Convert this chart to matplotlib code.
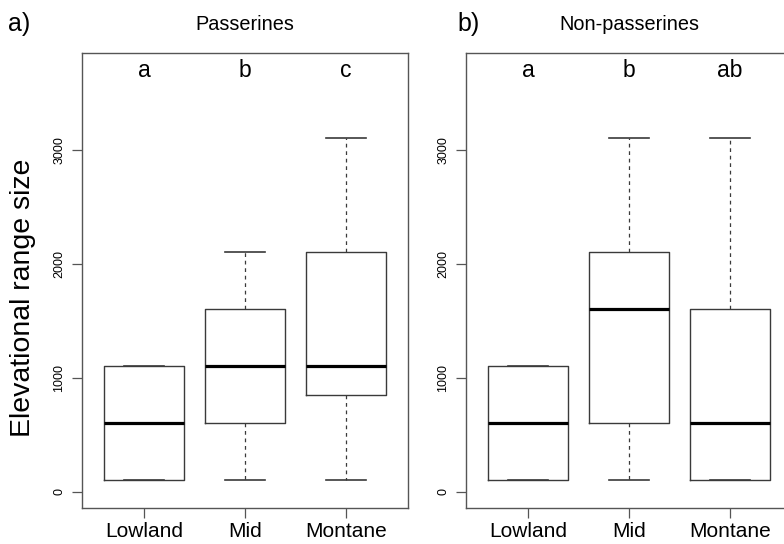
import matplotlib
matplotlib.use("Agg")
import matplotlib.pyplot as plt

plt.rcParams['font.family'] = ['Liberation Sans', 'DejaVu Sans']

# Elevational range sizes (m) by elevation zone: five-number summaries
zones = ['Lowland', 'Mid', 'Montane']

pass_whislo = [100, 100, 100]
pass_q1 = [100, 600, 850]
pass_med = [600, 1100, 1100]
pass_q3 = [1100, 1600, 2100]
pass_whishi = [1100, 2100, 3100]
pass_letters = ['a', 'b', 'c']

nonpass_whislo = [100, 100, 100]
nonpass_q1 = [100, 600, 100]
nonpass_med = [600, 1600, 600]
nonpass_q3 = [1100, 2100, 1600]
nonpass_whishi = [1100, 3100, 3100]
nonpass_letters = ['a', 'b', 'ab']

yticks = [0, 1000, 2000, 3000]
letter_y = 3700


def make_stats(lo, q1, med, q3, hi):
    return [dict(whislo=a, q1=b, med=c, q3=d, whishi=e, fliers=[])
            for a, b, c, d, e in zip(lo, q1, med, q3, hi)]


def draw_panel(ax, stats, letters):
    grey = '#3a3a3a'
    ax.bxp(stats, positions=[1, 2, 3], widths=0.8, showfliers=False,
           boxprops=dict(color=grey, linewidth=1),
           medianprops=dict(color='black', linewidth=2.3, solid_capstyle='butt'),
           whiskerprops=dict(color=grey, linewidth=0.9, linestyle=(0, (3, 3))),
           capprops=dict(color=grey, linewidth=1.2),
           capwidths=0.4)
    ax.set_xlim(0.386, 3.614)
    ax.set_ylim(-140, 3850)
    ax.set_xticks([1, 2, 3])
    ax.set_xticklabels(zones, fontsize=15)
    ax.set_yticks(yticks)
    ax.set_yticklabels([str(v) for v in yticks], fontsize=9, rotation=90, va='center')
    ax.tick_params(axis='both', direction='out', length=7, width=0.9, color='#555555')
    ax.tick_params(axis='x', pad=3)
    ax.tick_params(axis='y', pad=5)
    for sp in ax.spines.values():
        sp.set_color('#555555')
        sp.set_linewidth(1)
    for i, lab in enumerate(letters):
        ax.text(i + 1, letter_y, lab, ha='center', va='center', fontsize=16.5)


fig = plt.figure(figsize=(7.84, 5.44), dpi=100)
W, H = 784, 544
ax1 = fig.add_axes([82 / W, 1 - 507.7 / H, 326 / W, 454.7 / H])
ax2 = fig.add_axes([466 / W, 1 - 507.7 / H, 326 / W, 454.7 / H])

draw_panel(ax1, make_stats(pass_whislo, pass_q1, pass_med, pass_q3, pass_whishi), pass_letters)
draw_panel(ax2, make_stats(nonpass_whislo, nonpass_q1, nonpass_med, nonpass_q3, nonpass_whishi), nonpass_letters)

fig.text(23 / W, 1 - 298 / H, 'Elevational range size', rotation=90,
         ha='center', va='center', fontsize=20.5)

fig.text(245 / W, 1 - 25 / H, 'Passerines', ha='center', va='center', fontsize=14.3)
fig.text(629 / W, 1 - 25 / H, 'Non-passerines', ha='center', va='center', fontsize=14.3)
fig.text(8 / W, 1 - 24 / H, 'a)', ha='left', va='center', fontsize=18)
fig.text(457 / W, 1 - 24 / H, 'b)', ha='left', va='center', fontsize=18)

fig.savefig('out.png', dpi=100)
